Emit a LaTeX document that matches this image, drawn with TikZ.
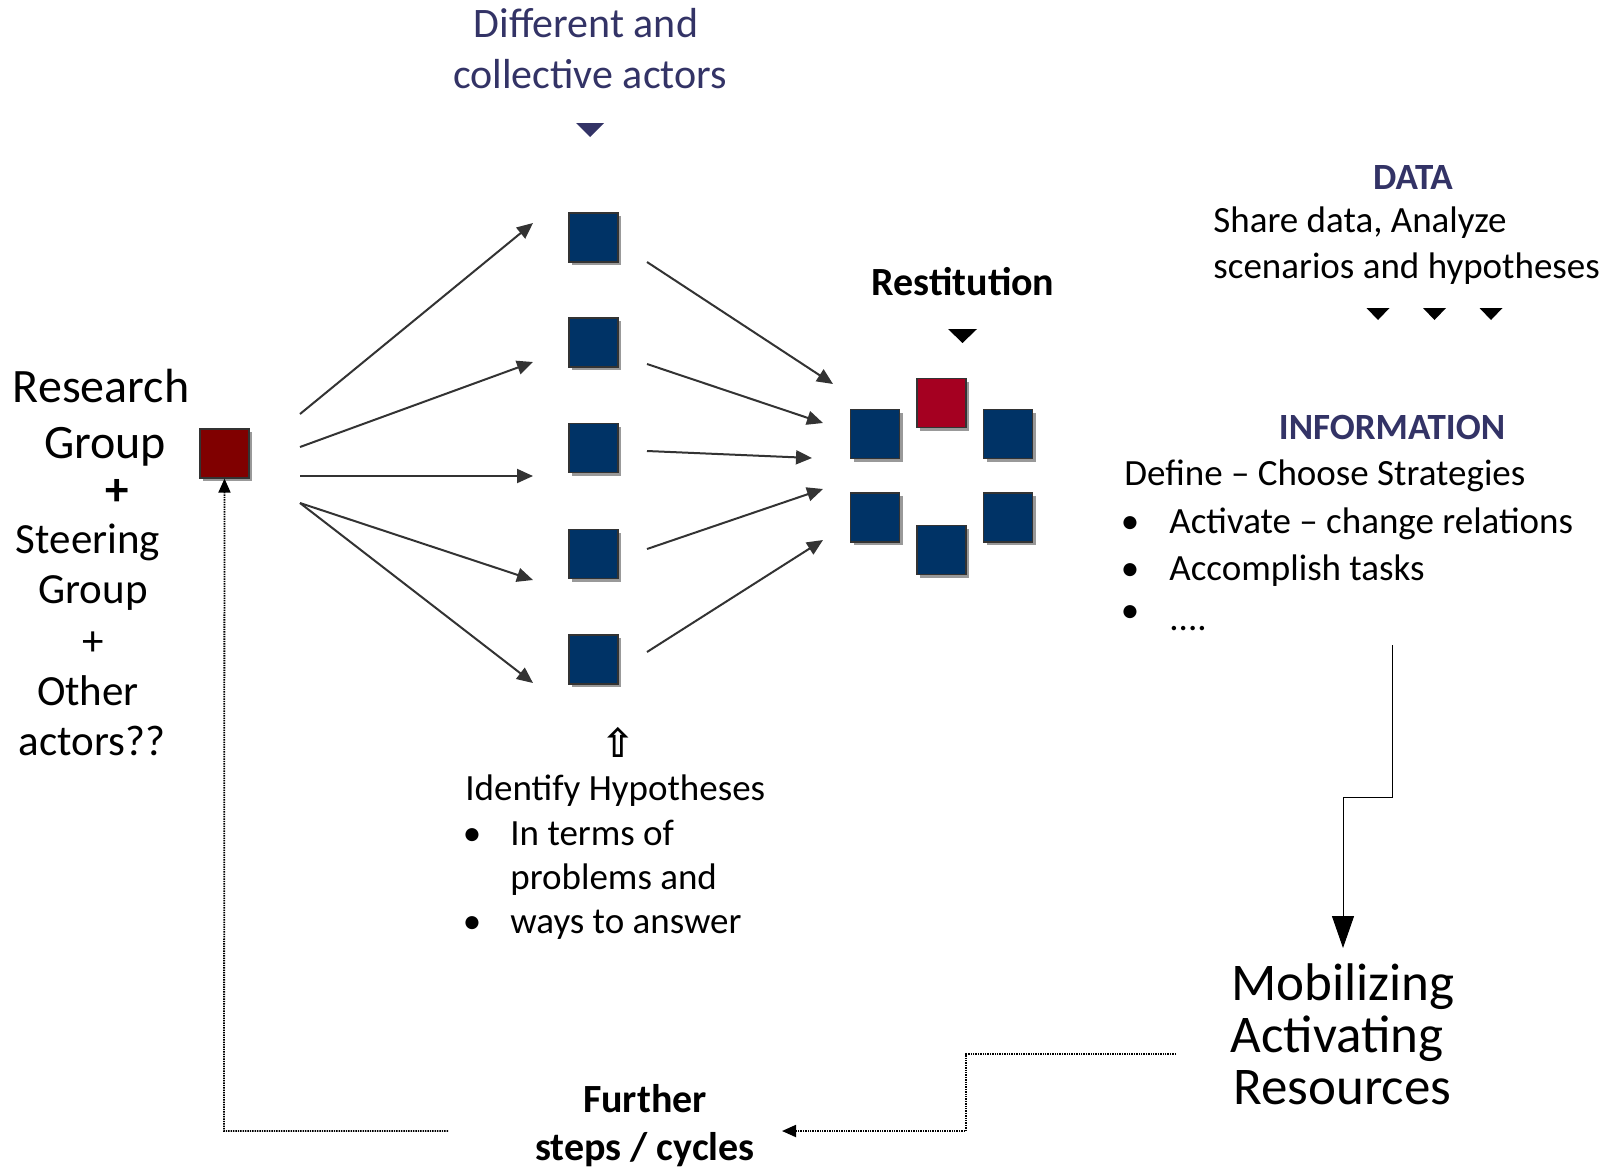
\documentclass[tikz,border=0pt]{standalone}
\usepackage{fontspec}
\setmainfont{Carlito}
\newfontfamily\symfont{DejaVu Sans}
\usetikzlibrary{arrows.meta,shadows}
\definecolor{sqnavy}{RGB}{0,51,102}
\definecolor{txtnavy}{RGB}{51,51,102}
\definecolor{redA}{RGB}{165,0,33}
\definecolor{redB}{RGB}{128,0,0}
\definecolor{arrgray}{RGB}{51,51,51}
\tikzset{
  sqbase/.style={draw=arrgray, line width=0.6pt, minimum size=24.5pt, inner sep=0pt,
    drop shadow={shadow xshift=1.6pt, shadow yshift=-1.6pt, fill=black!40, opacity=1}},
  bsq/.style={sqbase, fill=sqnavy},
  rsq/.style={sqbase, fill=redA},
  dsq/.style={sqbase, fill=redB},
  fan/.style={draw=arrgray, line width=1pt, -{Triangle[length=8pt,width=7pt]}},
  solidarr/.style={draw=black, line width=0.5pt, -{Triangle[length=16pt,width=11pt]}},
  dotarr/.style={draw=black, line width=0.9pt, dash pattern=on 0.7pt off 0.5pt, -{Triangle[length=7pt,width=6pt]}},
  txt/.style={inner sep=0pt, font=\fontsize{18.5pt}{22pt}\selectfont},
  lefttxt/.style={inner sep=0pt, anchor=base, font=\fontsize{24pt}{28pt}\selectfont},
  lefttxtb/.style={inner sep=0pt, anchor=base, font=\fontsize{21.5pt}{26pt}\selectfont},
  hdr/.style={inner sep=0pt, anchor=base, text=txtnavy, font=\fontsize{18.5pt}{22pt}\selectfont\bfseries},
}
\begin{document}
\begin{tikzpicture}[x=0.5pt,y=-0.5pt]
\useasboundingbox (0,0) rectangle (1606,1168);

% ---- left text
\node[lefttxt] (l1) at (101,402) {Research};
\node[lefttxt] (l2) at (105,458) {Group};
\node[lefttxt, font=\fontsize{23.5pt}{28pt}\selectfont\bfseries] (l3) at (117,505) {+};
\node[lefttxtb] (l4) at (88,553) {Steering};
\node[lefttxtb] (l5) at (93,603) {Group};
\node[lefttxtb] (l6) at (93,655) {+};
\node[lefttxtb] (l7) at (88,705) {Other};
\node[lefttxtb] (l8) at (92,755) {actors??};

% ---- top text
\node[inner sep=0pt, anchor=base, text=txtnavy, font=\fontsize{21pt}{25pt}\selectfont] (t1) at (586,37) {Different and};
\node[inner sep=0pt, anchor=base, text=txtnavy, font=\fontsize{21pt}{25pt}\selectfont] (t2) at (590,88) {collective actors};
\fill[txtnavy] (576,123) -- (604,123) -- (590,137) -- cycle;

% ---- squares
\node[dsq] (rs) at (224.5,453.5) {};
\node[bsq] (b1) at (593.5,237.5) {};
\node[bsq] (b2) at (593.5,342.5) {};
\node[bsq] (b3) at (593.5,448) {};
\node[bsq] (b4) at (593.5,554) {};
\node[bsq] (b5) at (593.5,659.5) {};

\node[rsq] (cr) at (941.5,403) {};
\node[bsq] (ctl) at (875,434) {};
\node[bsq] (ctr) at (1008,434) {};
\node[bsq] (cbl) at (875,517.5) {};
\node[bsq] (cbr) at (1008,517.5) {};
\node[bsq] (cbm) at (941.5,550) {};

% ---- fan arrows left
\coordinate (ls1) at (300,414); \coordinate (le1) at (533,223);
\coordinate (ls2) at (300,447); \coordinate (le2) at (533,362);
\coordinate (ls3) at (300,476); \coordinate (le3) at (533,476);
\coordinate (ls4) at (300,503); \coordinate (le4) at (533,580);
\coordinate (ls5) at (300,503); \coordinate (le5) at (533,683);
\foreach \i in {1,...,5}{\draw[fan] (ls\i) -- (le\i);}

% ---- fan arrows right
\coordinate (rs1) at (647,262); \coordinate (re1) at (833,384);
\coordinate (rs2) at (647,364); \coordinate (re2) at (823,423);
\coordinate (rs3) at (647,451); \coordinate (re3) at (812,458);
\coordinate (rs4) at (647,549); \coordinate (re4) at (823,489);
\coordinate (rs5) at (647,652); \coordinate (re5) at (823,540);
\foreach \i in {1,...,5}{\draw[fan] (rs\i) -- (re\i);}

% ---- Restitution
\node[inner sep=0pt, anchor=base, font=\fontsize{20pt}{24pt}\selectfont\bfseries] (rest) at (963,295) {Restitution};
\fill[black] (948,329) -- (977,329) -- (962.5,343) -- cycle;

% ---- DATA block
\node[hdr] (data) at (1413,189) {DATA};
\node[txt, anchor=base west] (d1) at (1213,232) {Share data, Analyze};
\node[txt, anchor=base west] (d2) at (1213,278) {scenarios and hypotheses};
\foreach \x in {1378,1434.5,1491}{\fill[black] (\x-11.5,308) -- (\x+11.5,308) -- (\x,320) -- cycle;}

% ---- INFORMATION block
\node[hdr] (info) at (1392,439) {INFORMATION};
\node[txt, anchor=base west] (i0) at (1124,485) {Define – Choose Strategies};
\node[txt, anchor=base] (ib1) at (1130,533) {•};
\node[txt, anchor=base west] (i1) at (1169,533) {Activate – change relations};
\node[txt, anchor=base] (ib2) at (1130,580) {•};
\node[txt, anchor=base west] (i2) at (1169,580) {Accomplish tasks};
\node[txt, anchor=base] (ib3) at (1130,622) {•};
\node[txt, anchor=base west] (i3) at (1169,630) {....};

% ---- Identify block
\node[inner sep=0pt, font=\symfont\bfseries\fontsize{20pt}{24pt}\selectfont] (up) at (618,742) {⇧};
\node[txt, anchor=base west] (h0) at (465,800) {Identify Hypotheses};
\node[txt, anchor=base] (hb1) at (472,845) {•};
\node[txt, anchor=base west] (h1) at (510,845) {In terms of};
\node[txt, anchor=base west] (h2) at (510,889) {problems and};
\node[txt, anchor=base] (hb2) at (472,933) {•};
\node[txt, anchor=base west] (h3) at (510,933) {ways to answer};

% ---- Mobilizing
\node[inner sep=0pt, anchor=base west, font=\fontsize{26.5pt}{31pt}\selectfont] (m1) at (1231,1000) {Mobilizing};
\node[inner sep=0pt, anchor=base west, font=\fontsize{26.5pt}{31pt}\selectfont] (m2) at (1230,1052) {Activating};
\node[inner sep=0pt, anchor=base west, font=\fontsize{26.5pt}{31pt}\selectfont] (m3) at (1233,1104) {Resources};

% ---- Further steps
\node[inner sep=0pt, anchor=base, font=\fontsize{20pt}{24pt}\selectfont\bfseries] (f1) at (645,1112) {Further};
\node[inner sep=0pt, anchor=base, font=\fontsize{20pt}{24pt}\selectfont\bfseries] (f2) at (645,1160) {steps / cycles};

% ---- connectors
\coordinate (infoEnd) at (1392,645);
\coordinate (mobTop) at (1343,948);
\draw[solidarr] (infoEnd) -- (1392,797) -- (1343,797) -- (mobTop);

\coordinate (mobL) at (1176,1054);
\coordinate (furtherR) at (782,1131);
\draw[dotarr] (mobL) -- (966,1054) -- (966,1131) -- (furtherR);

\coordinate (furtherL) at (448,1131);
\draw[dotarr] (furtherL) -- (224,1131) -- (rs.south);
\end{tikzpicture}
\end{document}
